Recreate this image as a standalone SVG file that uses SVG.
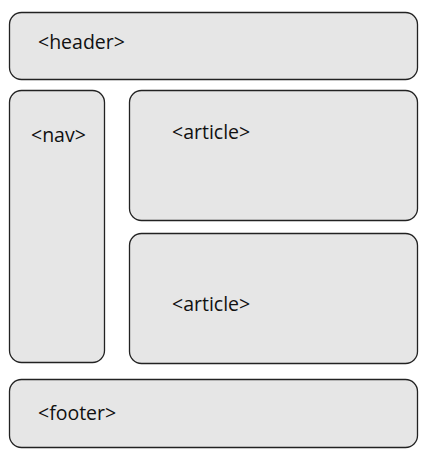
<svg xmlns="http://www.w3.org/2000/svg" width="427" height="457" viewBox="0 0 427 457">
<style>
.box{fill:#e6e6e6;stroke:#222;stroke-width:1.3}
.lbl{font-family:"Open Sans","Noto Sans",sans-serif;font-size:19.5px;fill:#111}
</style>
<rect width="427" height="457" fill="#fff"/>
<g id="header"><rect class="box" x="9.5" y="12.5" width="408" height="67" rx="12"/><text class="lbl" x="38" y="49">&lt;header&gt;</text></g>
<g id="nav"><rect class="box" x="9.5" y="90.5" width="95" height="272" rx="12"/><text class="lbl" x="31" y="142">&lt;nav&gt;</text></g>
<g id="article1"><rect class="box" x="129.5" y="90.5" width="288" height="130" rx="12"/><text class="lbl" x="172" y="139">&lt;article&gt;</text></g>
<g id="article2"><rect class="box" x="129.5" y="233.5" width="288" height="130" rx="12"/><text class="lbl" x="172" y="311">&lt;article&gt;</text></g>
<g id="footer"><rect class="box" x="9.5" y="379.5" width="408" height="68" rx="12"/><text class="lbl" x="38" y="420">&lt;footer&gt;</text></g>
<g id="connectors"/>
</svg>
